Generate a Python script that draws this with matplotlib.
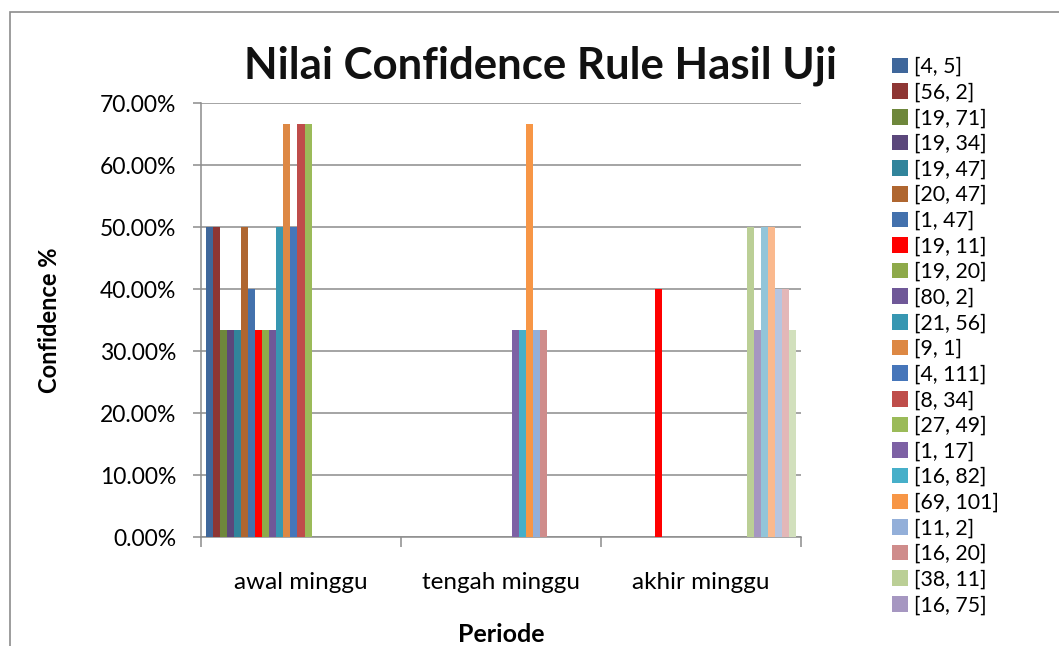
import matplotlib
matplotlib.use("Agg")
import matplotlib.pyplot as plt
import numpy as np
from matplotlib.patches import Rectangle

plt.rcParams['font.family'] = ['Lato', 'DejaVu Sans']

categories = ["awal minggu", "tengah minggu", "akhir minggu"]

# series names visible in the legend (legend is truncated after 22 entries)
series_names = ["[4, 5]", "[56, 2]", "[19, 71]", "[19, 34]", "[19, 47]", "[20, 47]",
                "[1, 47]", "[19, 11]", "[19, 20]", "[80, 2]", "[21, 56]", "[9, 1]",
                "[4, 111]", "[8, 34]", "[27, 49]", "[1, 17]", "[16, 82]", "[69, 101]",
                "[11, 2]", "[16, 20]", "[38, 11]", "[16, 75]"]

# confidence (%) per series, one list per category (27 series in the chart)
awal_minggu = [50, 50, 33.33, 33.33, 33.33, 50, 40, 33.33, 33.33, 33.33, 50, 66.67,
               50, 66.67, 66.67, 0, 0, 0, 0, 0, 0, 0, 0, 0, 0, 0, 0]
tengah_minggu = [0, 0, 0, 0, 0, 0, 0, 0, 0, 0, 0, 0,
                 0, 0, 0, 33.33, 33.33, 66.67, 33.33, 33.33, 0, 0, 0, 0, 0, 0, 0]
akhir_minggu = [0, 0, 0, 0, 0, 0, 0, 40, 0, 0, 0, 0,
                0, 0, 0, 0, 0, 0, 0, 0, 50, 33.33, 50, 50, 40, 40, 33.33]

colors = ["#3F679B", "#8E3634", "#6E873B", "#5B477B", "#31849B", "#AF6630",
          "#4371AD", "#FF0000", "#8EAA4A", "#6F5898", "#3797B2", "#DD8844",
          "#4676BA", "#BF4D4A", "#9BBB59", "#7D61A4", "#46AFC9", "#F79646",
          "#93AFD9", "#CF8C8B", "#BBCF96", "#A697C1", "#93C5D9", "#FAB98E",
          "#B7C5E0", "#E3B7B8", "#D2E0BD"]

values = np.array([awal_minggu, tengah_minggu, akhir_minggu])
n_series = values.shape[1]

fig = plt.figure(figsize=(10.59, 6.46), dpi=100)
ax = fig.add_axes([201/1059, 1-537/646, 600/1059, (537-103)/646])

margin = 0.025
w = (1 - 2*margin) / n_series
x = np.arange(len(categories))
handles = []
for i in range(n_series):
    pos = x - 0.5 + margin + (i + 0.5) * w
    b = ax.bar(pos, values[:, i], width=w, color=colors[i], zorder=3,
               label=series_names[i] if i < len(series_names) else "_nolegend_")
    if i < len(series_names):
        handles.append(b)

ax.set_xlim(-0.5, 2.5)
ax.set_ylim(0, 70)
ax.set_yticks(np.arange(0, 71, 10))
ax.set_yticklabels([f"{v:.2f}%" for v in np.arange(0, 71, 10)], fontsize=16.5)
ax.yaxis.grid(True, color="#8C8C8C", linewidth=1.1, zorder=0)
ax.set_xticks(x)
ax.set_xticklabels(categories, fontsize=17.5)
ax.set_xticks([-0.5, 0.5, 1.5, 2.5], minor=True)
ax.tick_params(axis='x', which='major', length=0, pad=25)
ax.tick_params(axis='x', which='minor', length=7, color="#8C8C8C", width=1.1)
ax.tick_params(axis='y', length=6, color="#8C8C8C", width=1.1, pad=12)

for s in ["top", "right"]:
    ax.spines[s].set_visible(False)
for s in ["left", "bottom"]:
    ax.spines[s].set_color("#8C8C8C")
    ax.spines[s].set_linewidth(1.1)

ax.set_xlabel("Periode", fontsize=18, fontweight="bold", labelpad=22)
ax.set_ylabel("Confidence %", fontsize=17, fontweight="bold", labelpad=28)

fig.text(540/1059, 1-66/646, "Nilai Confidence Rule Hasil Uji", fontsize=31.5,
         fontweight="bold", ha="center", va="center", color="#111111")

leg = fig.legend(handles=handles, loc="upper left",
                 bbox_to_anchor=(892/1059, 1-57/646), frameon=False,
                 fontsize=15.3, handlelength=0.75, handleheight=0.75,
                 handletextpad=0.3, labelspacing=0.265, borderpad=0, borderaxespad=0)

fig.patches.append(Rectangle((10/1059, -0.05), 1.2, 1-12/646+0.05,
                             transform=fig.transFigure, fill=False,
                             edgecolor="#8C8C8C", linewidth=1.2))

fig.savefig("out.png", dpi=100)
